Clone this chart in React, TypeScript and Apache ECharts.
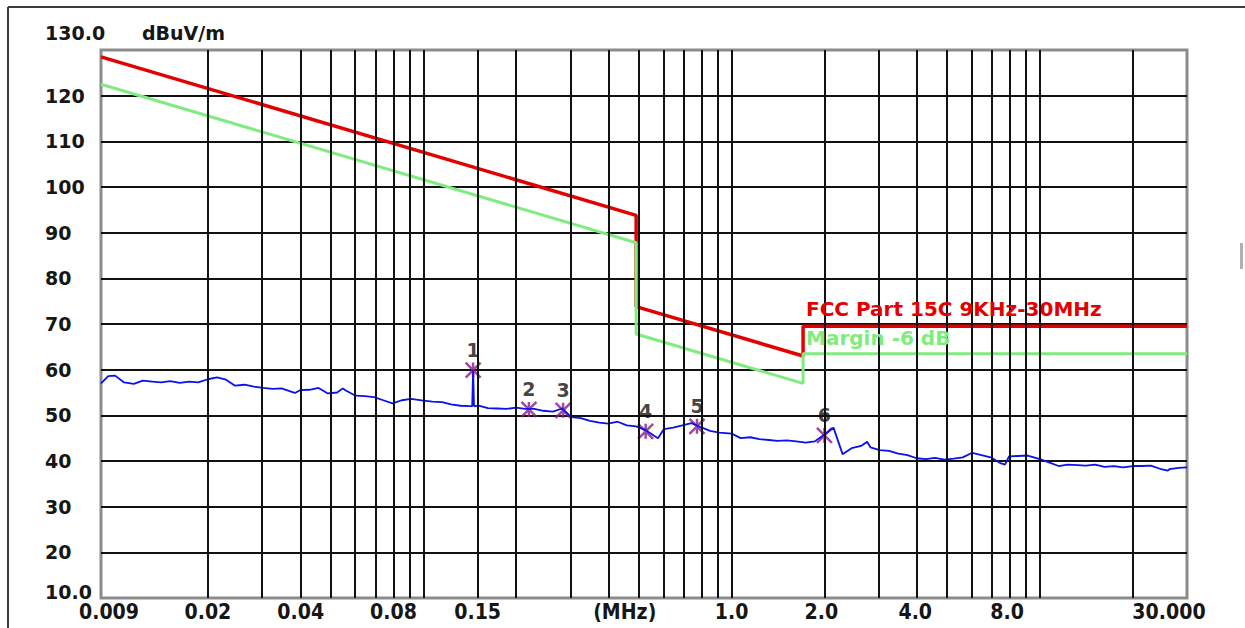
import React, { useEffect, useRef } from "react";
import * as echarts from "echarts";

// ---- Data (frequency in MHz, level in dBuV/m) ----
const traceFreq = [
  0.009, 0.0095, 0.01, 0.0107, 0.0115, 0.0123, 0.0132, 0.0141, 0.0151, 0.0162, 0.0174, 0.0186,
  0.02, 0.0214, 0.0229, 0.0245, 0.0263, 0.0282, 0.0302, 0.0324, 0.0347, 0.0372, 0.0383, 0.0398, 0.0427,
  0.0457, 0.049, 0.0525, 0.0548, 0.0562, 0.0603, 0.0646, 0.0692, 0.0741, 0.0794, 0.0851, 0.0912,
  0.1, 0.107, 0.115, 0.123, 0.132, 0.141, 0.144, 0.145, 0.146, 0.151, 0.162, 0.174, 0.186,
  0.2, 0.214, 0.229, 0.245, 0.263, 0.282, 0.302, 0.324, 0.347, 0.372, 0.398, 0.427,
  0.457, 0.49, 0.525, 0.562, 0.577, 0.603, 0.646, 0.692, 0.741, 0.794, 0.851, 0.912,
  1.0, 1.07, 1.15, 1.23, 1.32, 1.41, 1.51, 1.62, 1.74, 1.86,
  2.0, 2.14, 2.29, 2.45, 2.63, 2.75, 2.82, 3.02, 3.24, 3.47, 3.72, 3.98, 4.27,
  4.57, 4.9, 5.25, 5.62, 6.03, 6.46, 6.92, 7.41, 7.7, 7.94, 8.51, 9.12,
  10.0, 10.7, 11.5, 12.3, 13.2, 14.1, 15.1, 16.2, 17.4, 18.6,
  20.0, 21.4, 22.9, 24.5, 26.0, 26.3, 28.2, 30.0,
];
const traceLevel = [
  57.0, 58.6, 58.7, 57.2, 56.9, 57.6, 57.4, 57.2, 57.5, 57.1, 57.4, 57.2,
  57.9, 58.3, 57.8, 56.5, 56.7, 56.3, 56.0, 55.8, 55.9, 55.2, 54.9, 55.5, 55.6,
  56.0, 54.8, 55.0, 55.9, 55.4, 54.3, 54.2, 54.0, 53.3, 52.6, 53.3, 53.6,
  53.2, 53.0, 52.9, 52.4, 52.1, 52.0, 52.0, 59.8, 52.0, 52.1, 51.6, 51.5, 51.4,
  51.7, 51.4, 51.4, 51.0, 50.8, 51.5, 49.6, 49.4, 48.8, 48.4, 48.2, 48.6,
  47.8, 47.6, 46.8, 45.5, 45.0, 47.0, 47.3, 47.8, 48.3, 47.4, 46.6, 46.2,
  46.0, 45.0, 45.2, 44.8, 44.6, 44.4, 44.5, 44.3, 44.0, 44.3,
  45.8, 47.3, 41.5, 42.8, 43.3, 44.2, 43.0, 42.4, 42.2, 41.6, 41.3, 40.6, 40.4,
  40.7, 40.3, 40.5, 40.8, 41.8, 41.3, 40.8, 39.6, 39.2, 41.0, 41.1, 41.2,
  40.4, 39.7, 38.9, 39.2, 39.1, 39.0, 39.2, 38.7, 38.9, 38.6,
  38.9, 38.9, 39.0, 38.3, 37.9, 38.2, 38.5, 38.6,
];

const limitFreq = [0.009, 0.49, 0.49, 1.705, 1.705, 30];
const limitLevel = [128.5, 93.8, 73.8, 63.0, 69.5, 69.5];
const marginLevel = [122.5, 87.8, 67.8, 57.0, 63.5, 63.5];

const markerNames = ["1", "2", "3", "4", "5", "6"];
const markerFreq = [0.145, 0.22, 0.284, 0.526, 0.772, 2.0];
const markerLevel = [59.9, 51.3, 51.1, 46.5, 47.6, 45.6];

const gridFreqs = [
  0.02, 0.03, 0.04, 0.05, 0.06, 0.07, 0.08, 0.09,
  0.1, 0.15, 0.2, 0.3, 0.4, 0.5, 0.6, 0.7, 0.8, 0.9,
  1, 2, 3, 4, 5, 6, 7, 8, 9, 10, 20,
];

const xTickValues = [0.009, 0.02, 0.04, 0.08, 0.15, 1, 2, 4, 8, 30];
const xTickLabels = ["0.009", "0.02", "0.04", "0.08", "0.15", "1.0", "2.0", "4.0", "8.0", "30.000"];
const xUnitLabel = "(MHz)";
const xUnitAt = 0.45;

const yMin = 10;
const yMax = 130;
const yStep = 10;
const yUnit = "dBuV/m";

const limitName = "FCC Part 15C 9KHz-30MHz";
const marginName = "Margin -6 dB";

// ---- Styling / layout ----
const FONT = '"DejaVu Sans", "Liberation Sans", sans-serif';
const RED = "#e50000";
const GREEN = "#80ec80";
const BLUE = "#0a10f0";
const MARK = "#8a1c8a";
const INK = "#161616";
const xLabelShift = [8, 0, 0, 0, 0, 0, -3, -2, -3, -18];

export default function App() {
  const ref = useRef<HTMLDivElement>(null);

  useEffect(() => {
    if (!ref.current) return;
    const chart = echarts.init(ref.current, null, { renderer: "svg" });

    const pairs = (xs: number[], ys: number[]) => xs.map((x, i) => [x, ys[i]]);

    chart.setOption({
      animation: false,
      backgroundColor: "#ffffff",
      grid: {
        left: 101,
        right: 58,
        top: 50,
        bottom: 30,
        show: true,
        borderColor: "#8c8c8c",
        borderWidth: 3,
        backgroundColor: "#ffffff",
        containLabel: false,
        outerBoundsMode: "none",
      },
      xAxis: {
        type: "log",
        logBase: 10,
        min: 0.009,
        max: 30,
        axisLine: { show: false },
        axisTick: { show: false },
        axisLabel: { show: false },
        splitLine: { show: false },
        minorTick: { show: false },
        minorSplitLine: { show: false },
      },
      yAxis: {
        type: "value",
        min: yMin,
        max: yMax,
        interval: yStep,
        axisLine: { show: false },
        axisTick: { show: false },
        axisLabel: {
          align: "left",
          margin: 56,
          color: INK,
          fontFamily: FONT,
          fontWeight: "bold",
          fontSize: 19,
          formatter: (v: number) => (v === yMin || v === yMax ? "" : String(v)),
        },
        splitLine: {
          show: true,
          showMinLine: false,
          showMaxLine: false,
          lineStyle: { color: "#111111", width: 2 },
        },
      },
      series: [
        {
          type: "line",
          name: "grid",
          data: [[0.009, 10]],
          symbol: "none",
          lineStyle: { opacity: 0 },
          silent: true,
          markLine: {
            silent: true,
            symbol: ["none", "none"],
            label: { show: false },
            lineStyle: { color: "#111111", width: 2, type: "solid" },
            data: gridFreqs.map((f) => ({ xAxis: f })),
          },
        },
        {
          type: "line",
          name: limitName,
          data: pairs(limitFreq, limitLevel),
          symbol: "none",
          lineStyle: { color: RED, width: 3.5 },
        },
        {
          type: "line",
          name: marginName,
          data: pairs(limitFreq, marginLevel),
          symbol: "none",
          lineStyle: { color: GREEN, width: 3 },
        },
        {
          type: "line",
          name: "trace",
          data: pairs(traceFreq, traceLevel),
          symbol: "none",
          lineStyle: { color: BLUE, width: 1.8 },
        },
        {
          type: "scatter",
          name: "markers",
          symbol: "path://M0,0L10,10M10,0L0,10M5,0L5,10",
          symbolSize: 15,
          itemStyle: { color: "transparent", borderColor: MARK, borderWidth: 2.5 },
          label: {
            show: true,
            position: "top",
            distance: 2,
            formatter: "{b}",
            color: "#111111",
            fontFamily: FONT,
            fontWeight: "bold",
            fontSize: 19,
          },
          data: markerFreq.map((f, i) => ({ name: markerNames[i], value: [f, markerLevel[i]] })),
        },
      ],
    });

    const textStyle = (text: string, font: string, fill: string, align: string) => ({
      text,
      font,
      fill,
      align,
      verticalAlign: "middle",
      textAlign: align,
      textVerticalAlign: "middle",
    });

    const xLabelY = 612;
    const xLabels = xTickValues.map((v, i) => {
      const px = chart.convertToPixel({ xAxisIndex: 0 }, v) as number;
      return {
        type: "text",
        x: px + xLabelShift[i],
        y: xLabelY,
        scaleY: 1.1,
        style: textStyle(xTickLabels[i], `bold 19px ${FONT}`, INK, "center"),
        z: 10,
      };
    });
    const unitPx = chart.convertToPixel({ xAxisIndex: 0 }, xUnitAt) as number;
    const topY = chart.convertToPixel({ yAxisIndex: 0 }, yMax) as number;
    const botY = chart.convertToPixel({ yAxisIndex: 0 }, yMin) as number;

    chart.setOption({
      graphic: [
        { type: "line", shape: { x1: 8, y1: 7, x2: 1245, y2: 7 }, style: { stroke: "#3a3a3a", lineWidth: 2 } },
        { type: "line", shape: { x1: 8, y1: 7, x2: 8, y2: 628 }, style: { stroke: "#3a3a3a", lineWidth: 2 } },
        { type: "rect", shape: { x: 1240, y: 243, width: 3, height: 26 }, style: { fill: "#b0b0b0" } },
        ...xLabels,
        {
          type: "text",
          x: unitPx,
          y: xLabelY,
          scaleY: 1.1,
          style: textStyle(xUnitLabel, `bold 19px ${FONT}`, INK, "center"),
        },
        {
          type: "text",
          x: 45,
          y: topY - 17,
          style: textStyle(yMax.toFixed(1), `bold 19px ${FONT}`, INK, "left"),
        },
        {
          type: "text",
          x: 142,
          y: topY - 17,
          style: textStyle(yUnit, `bold 19px ${FONT}`, INK, "left"),
        },
        {
          type: "text",
          x: 45,
          y: botY - 6,
          style: textStyle(yMin.toFixed(1), `bold 19px ${FONT}`, INK, "left"),
        },
        {
          type: "text",
          x: 806,
          y: 309,
          style: textStyle(limitName, `bold 20px ${FONT}`, RED, "left"),
          z: 10,
        },
        {
          type: "text",
          x: 806,
          y: 338,
          style: textStyle(marginName, `bold 20px ${FONT}`, GREEN, "left"),
          z: 10,
        },
      ],
    });

    return () => chart.dispose();
  }, []);

  return (
    <div
      ref={ref}
      style={{ position: "fixed", left: 0, top: 0, width: 1245, height: 628, background: "#fff" }}
    />
  );
}
